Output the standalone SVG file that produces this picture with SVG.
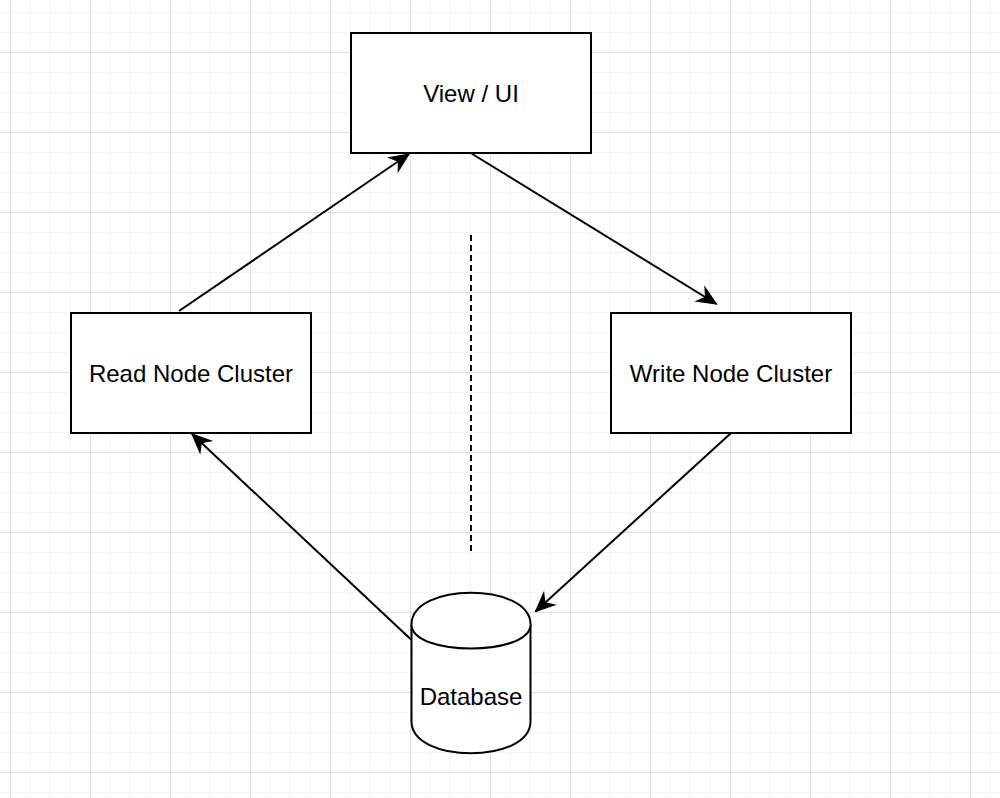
<svg xmlns="http://www.w3.org/2000/svg" width="1000" height="798" viewBox="0 0 1000 798">
<style>
.box{fill:#ffffff;stroke:#000000;stroke-width:2}
.lbl{font-family:"Liberation Sans",Arial,Helvetica,sans-serif;font-size:24px;fill:#000000;text-anchor:middle}
.edge{fill:none;stroke:#000000;stroke-width:2}
</style>
<defs>
<pattern id="grid" x="10" y="12" width="80" height="80" patternUnits="userSpaceOnUse">
<path d="M20.5,0V80M40.5,0V80M60.5,0V80M0,0.5H80M0,20.5H80M0,60.5H80" stroke="#f4f4f4" stroke-width="1" fill="none"/>
<path d="M0.5,0V80M0,40.5H80" stroke="#dddddd" stroke-width="1" fill="none"/>
</pattern>
<marker id="arr" markerUnits="userSpaceOnUse" markerWidth="22" markerHeight="22" viewBox="-18 -9 19 18" refX="0" refY="0" orient="auto">
<path d="M0,0L-16,-7L-11,0L-16,7Z" fill="#000000" stroke="#000000" stroke-width="1"/>
</marker>
</defs>
<rect width="1000" height="798" fill="#ffffff"/>
<rect width="1000" height="798" fill="url(#grid)"/>
<g id="connectors">
<path class="edge" d="M179,311L409,154" marker-end="url(#arr)"/>
<path class="edge" d="M471.5,153.5L716.5,304" marker-end="url(#arr)"/>
<path class="edge" d="M730.5,433.5L535.5,611.5" marker-end="url(#arr)"/>
<path class="edge" d="M411,639.5L192,434" marker-end="url(#arr)"/>
<path d="M471,235V552" fill="none" stroke="#000000" stroke-width="2" stroke-dasharray="6 4"/>
</g>
<g id="view-ui">
<rect class="box" x="351" y="33" width="240" height="120"/>
<text class="lbl" x="471" y="102">View / UI</text>
</g>
<g id="read-node-cluster">
<rect class="box" x="71" y="313" width="240" height="120"/>
<text class="lbl" x="191" y="382">Read Node Cluster</text>
</g>
<g id="write-node-cluster">
<rect class="box" x="611" y="313" width="240" height="120"/>
<text class="lbl" x="731" y="382">Write Node Cluster</text>
</g>
<g id="database">
<path class="box" d="M411.5,624.5C411.5,582.2 530.5,582.2 530.5,624.5L530.5,721.5C530.5,763.8 411.5,763.8 411.5,721.5Z"/>
<path class="box" fill="none" d="M411.5,624.5C411.5,656.5 530.5,656.5 530.5,624.5"/>
<text class="lbl" x="471" y="705">Database</text>
</g>
</svg>
